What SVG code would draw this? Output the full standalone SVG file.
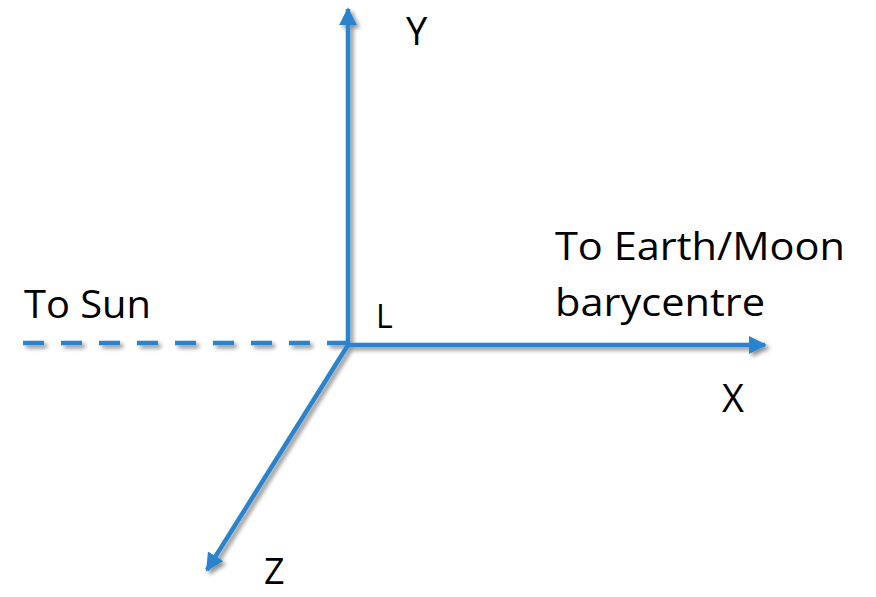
<svg xmlns="http://www.w3.org/2000/svg" width="876" height="597" viewBox="0 0 876 597">
<style>
.ax{stroke:#2b83cc;stroke-width:4.5;fill:none}
.t{font-family:"Open Sans","Noto Sans",sans-serif;font-size:38px;fill:#000}
</style>
<defs>
<filter id="sh" x="-20%" y="-20%" width="140%" height="140%">
<feGaussianBlur in="SourceAlpha" stdDeviation="2"/>
<feOffset dx="3" dy="3" result="b"/>
<feComponentTransfer><feFuncA type="linear" slope="0.45"/></feComponentTransfer>
<feMerge><feMergeNode/><feMergeNode in="SourceGraphic"/></feMerge>
</filter>
<marker id="ah" viewBox="0 0 10 10" refX="9" refY="5" markerWidth="4" markerHeight="4" orient="auto" markerUnits="strokeWidth">
<path d="M0,0 L10,5 L0,10 Z" fill="#2b83cc"/>
</marker>
</defs>
<g id="connectors" filter="url(#sh)">
<line class="ax" x1="348" y1="345" x2="348" y2="9" marker-end="url(#ah)"/>
<line class="ax" x1="348" y1="345" x2="765" y2="345" marker-end="url(#ah)"/>
<line class="ax" x1="348" y1="345" x2="207" y2="570" marker-end="url(#ah)"/>
<line class="ax" x1="23" y1="343" x2="348" y2="343" stroke-dasharray="21 17"/>
</g>
<g id="labels">
<text class="t" x="406" y="45">Y</text>
<text class="t" x="555" y="260" textLength="290" lengthAdjust="spacingAndGlyphs">To Earth/Moon</text>
<text class="t" x="555" y="316" textLength="210" lengthAdjust="spacingAndGlyphs">barycentre</text>
<text class="t" x="24" y="318" textLength="127" lengthAdjust="spacingAndGlyphs">To Sun</text>
<text class="t" x="376" y="328" style="font-size:32px">L</text>
<text class="t" x="722" y="412">X</text>
<text class="t" x="264" y="584" style="font-size:36px">Z</text>
</g>
</svg>
